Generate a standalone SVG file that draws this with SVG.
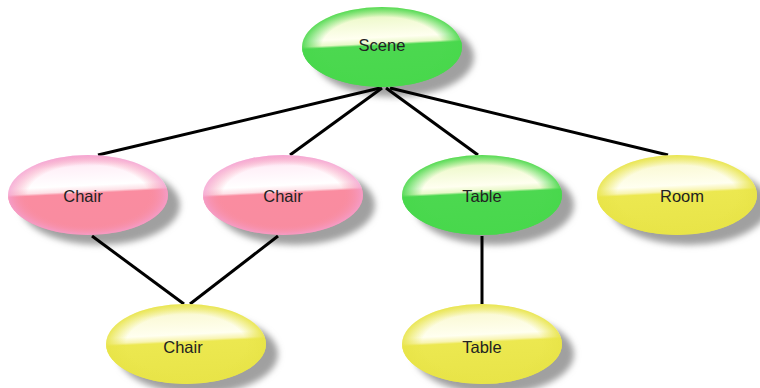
<svg xmlns="http://www.w3.org/2000/svg" width="760" height="388" viewBox="0 0 760 388">
<defs>
<filter id="blur" x="-20%" y="-20%" width="140%" height="140%"><feGaussianBlur stdDeviation="3"/></filter>
<linearGradient id="gGreen" x1="0.45" y1="0" x2="0.55" y2="1">
<stop offset="0" stop-color="#c8f0a0"/><stop offset="0.15" stop-color="#f0fad0"/><stop offset="0.38" stop-color="#fffff0"/><stop offset="0.45" stop-color="#e8f8c8"/><stop offset="0.48" stop-color="#4cd850"/><stop offset="1" stop-color="#48d84c"/>
</linearGradient>
<linearGradient id="gPink" x1="0.45" y1="0" x2="0.55" y2="1">
<stop offset="0" stop-color="#f8c0e0"/><stop offset="0.15" stop-color="#fff0f8"/><stop offset="0.38" stop-color="#ffffff"/><stop offset="0.45" stop-color="#fde0e6"/><stop offset="0.48" stop-color="#fa8ca0"/><stop offset="1" stop-color="#f88ca0"/>
</linearGradient>
<linearGradient id="gYellow" x1="0.45" y1="0" x2="0.55" y2="1">
<stop offset="0" stop-color="#f4f0a0"/><stop offset="0.15" stop-color="#fbfad8"/><stop offset="0.38" stop-color="#fffff0"/><stop offset="0.45" stop-color="#f8f4b0"/><stop offset="0.48" stop-color="#ece850"/><stop offset="1" stop-color="#e8e448"/>
</linearGradient>
<radialGradient id="rGreen" cx="0.5" cy="0.5" r="0.5"><stop offset="0.75" stop-color="#48d84c" stop-opacity="0"/><stop offset="1" stop-color="#48d84c" stop-opacity="0.9"/></radialGradient>
<radialGradient id="rPink" cx="0.5" cy="0.5" r="0.5"><stop offset="0.75" stop-color="#f88ca0" stop-opacity="0"/><stop offset="1" stop-color="#f4a0d0" stop-opacity="0.8"/></radialGradient>
<radialGradient id="rYellow" cx="0.5" cy="0.5" r="0.5"><stop offset="0.75" stop-color="#e8e448" stop-opacity="0"/><stop offset="1" stop-color="#e8e448" stop-opacity="0.9"/></radialGradient>
</defs>
<style>
.shadow{fill:#a0a0a0;filter:url(#blur)}
.lbl{font-family:"Liberation Sans",Arial,sans-serif;font-size:16.5px;fill:#222;text-anchor:middle;dominant-baseline:central}
.edge{stroke:#000;stroke-width:3;fill:none}
</style>
<rect width="760" height="388" fill="#fff"/>
<g id="shadows">
<ellipse class="shadow" cx="394" cy="57" rx="80" ry="40"/>
<ellipse class="shadow" cx="100" cy="205" rx="80" ry="40"/>
<ellipse class="shadow" cx="295" cy="205" rx="80" ry="40"/>
<ellipse class="shadow" cx="494" cy="205" rx="80" ry="40"/>
<ellipse class="shadow" cx="689" cy="205" rx="80" ry="40"/>
<ellipse class="shadow" cx="198" cy="354" rx="80" ry="40"/>
<ellipse class="shadow" cx="494" cy="354" rx="80" ry="40"/>
</g>
<g id="connectors">
<line class="edge" x1="380" y1="88" x2="98" y2="155"/>
<line class="edge" x1="382" y1="88" x2="290" y2="155"/>
<line class="edge" x1="386" y1="88" x2="478" y2="155"/>
<line class="edge" x1="390" y1="88" x2="668" y2="155"/>
<line class="edge" x1="92" y1="236" x2="184" y2="304"/>
<line class="edge" x1="278" y1="236" x2="190" y2="304"/>
<line class="edge" x1="482" y1="236" x2="482" y2="304"/>
</g>
<g id="scene">
<ellipse cx="382" cy="47" rx="80" ry="40" fill="url(#gGreen)"/>
<ellipse cx="382" cy="47" rx="80" ry="40" fill="url(#rGreen)"/>
<text class="lbl" x="382" y="45">Scene</text>
</g>
<g id="chair1">
<ellipse cx="88" cy="195" rx="80" ry="40" fill="url(#gPink)"/>
<ellipse cx="88" cy="195" rx="80" ry="40" fill="url(#rPink)"/>
<text class="lbl" x="83" y="196">Chair</text>
</g>
<g id="chair2">
<ellipse cx="283" cy="195" rx="80" ry="40" fill="url(#gPink)"/>
<ellipse cx="283" cy="195" rx="80" ry="40" fill="url(#rPink)"/>
<text class="lbl" x="283" y="196">Chair</text>
</g>
<g id="table1">
<ellipse cx="482" cy="195" rx="80" ry="40" fill="url(#gGreen)"/>
<ellipse cx="482" cy="195" rx="80" ry="40" fill="url(#rGreen)"/>
<text class="lbl" x="482" y="196">Table</text>
</g>
<g id="room">
<ellipse cx="677" cy="195" rx="80" ry="40" fill="url(#gYellow)"/>
<ellipse cx="677" cy="195" rx="80" ry="40" fill="url(#rYellow)"/>
<text class="lbl" x="682" y="196">Room</text>
</g>
<g id="chair3">
<ellipse cx="186" cy="344" rx="80" ry="40" fill="url(#gYellow)"/>
<ellipse cx="186" cy="344" rx="80" ry="40" fill="url(#rYellow)"/>
<text class="lbl" x="183" y="347">Chair</text>
</g>
<g id="table2">
<ellipse cx="482" cy="344" rx="80" ry="40" fill="url(#gYellow)"/>
<ellipse cx="482" cy="344" rx="80" ry="40" fill="url(#rYellow)"/>
<text class="lbl" x="482" y="347">Table</text>
</g>
</svg>
